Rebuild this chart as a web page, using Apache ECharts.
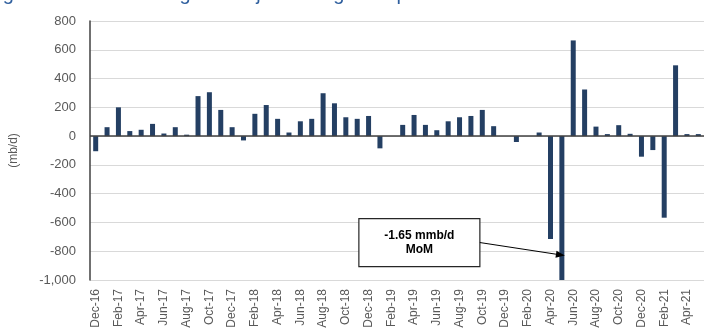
<!DOCTYPE html>
<html>
<head>
<meta charset="utf-8">
<script src="https://cdn.jsdelivr.net/npm/echarts@6/dist/echarts.min.js"></script>
<style>
  html, body { margin: 0; padding: 0; background: #ffffff; }
  #chart { width: 704px; height: 331px; }
</style>
</head>
<body>
<div id="chart"></div>
<script>
// Monthly change in crude output, thousand barrels per day
const months = [
  'Dec-16', 'Jan-17', 'Feb-17', 'Mar-17', 'Apr-17', 'May-17', 'Jun-17', 'Jul-17', 'Aug-17', 'Sep-17', 'Oct-17', 'Nov-17',
  'Dec-17', 'Jan-18', 'Feb-18', 'Mar-18', 'Apr-18', 'May-18', 'Jun-18', 'Jul-18', 'Aug-18', 'Sep-18', 'Oct-18', 'Nov-18',
  'Dec-18', 'Jan-19', 'Feb-19', 'Mar-19', 'Apr-19', 'May-19', 'Jun-19', 'Jul-19', 'Aug-19', 'Sep-19', 'Oct-19', 'Nov-19',
  'Dec-19', 'Jan-20', 'Feb-20', 'Mar-20', 'Apr-20', 'May-20', 'Jun-20', 'Jul-20', 'Aug-20', 'Sep-20', 'Oct-20', 'Nov-20',
  'Dec-20', 'Jan-21', 'Feb-21', 'Mar-21', 'Apr-21', 'May-21'
];
const momChange = [
  -105, 62, 200, 35, 44, 85, 18, 62, 10, 278, 305, 182,
  62, -30, 155, 216, 120, 25, 103, 120, 298, 228, 131, 120,
  140, -85, 0, 78, 147, 78, 41, 103, 131, 140, 182, 69,
  0, -41, 0, 25, -715, -1650, 665, 324, 66, 14, 76, 16,
  -143, -97, -567, 492, 14, 14
];
const yTicks = { min: -1000, max: 800, step: 200 };
const unitLabel = '(mb/d)';
const titleText = 'Figure 16: MoM Change in Major US Tight Oil production';
const calloutLines = ['-1.65 mmb/d', 'MoM'];
const calloutMonth = 'May-20';

const chart = echarts.init(document.getElementById('chart'), null, { renderer: 'canvas' });

const axisGrey = '#595959';
const font = 'Liberation Sans, Arial, sans-serif';

chart.setOption({
  animation: false,
  backgroundColor: '#ffffff',
  grid: { left: 87, top: 21, width: 621, height: 259, containLabel: false },
  xAxis: {
    type: 'category',
    data: months,
    boundaryGap: true,
    axisLine: { show: false, onZero: false },
    axisTick: { show: false },
    axisLabel: {
      interval: 1,
      rotate: 90,
      margin: 9,
      color: axisGrey,
      fontFamily: font,
      fontSize: 12
    },
    splitLine: { show: false }
  },
  yAxis: {
    type: 'value',
    min: yTicks.min,
    max: yTicks.max,
    interval: yTicks.step,
    name: unitLabel,
    nameLocation: 'middle',
    nameGap: 70,
    nameTextStyle: { color: axisGrey, fontFamily: font, fontSize: 12 },
    axisLine: { show: true, lineStyle: { color: '#404040', width: 1.5 } },
    axisTick: { show: false },
    axisLabel: {
      margin: 14,
      color: axisGrey,
      fontFamily: font,
      fontSize: 13,
      formatter: v => v.toLocaleString('en-US')
    },
    splitLine: { show: true, lineStyle: { color: '#d9d9d9', width: 1 } }
  },
  series: [{
    type: 'bar',
    data: momChange,
    barWidth: 5,
    clip: true,
    itemStyle: { color: '#243f63' },
    markLine: {
      silent: true,
      symbol: ['none', 'none'],
      label: { show: false },
      lineStyle: { color: '#404040', width: 1.5, type: 'solid' },
      data: [{ yAxis: 0 }]
    }
  }]
});

// Callout box with an arrow pointing at the May-20 drop
const tip = chart.convertToPixel({ xAxisIndex: 0, yAxisIndex: 0 }, [calloutMonth, -830]);
const tipX = tip[0] + 3, tipY = tip[1];
const boxW = 121, boxH = 48;
const boxRight = tipX - 85;
const boxTop = tipY - 37;
const startX = boxRight, startY = boxTop + boxH / 2;
const ang = Math.atan2(tipY - startY, tipX - startX);
const headLen = 9, headHalf = 3.5;
const baseX = tipX - headLen * Math.cos(ang), baseY = tipY - headLen * Math.sin(ang);

chart.setOption({
  graphic: [
    {
      type: 'text',
      left: -14,
      top: -16,
      style: { text: titleText, fill: '#2f5f9e', font: '20px ' + font }
    },
    {
      type: 'rect',
      shape: { x: boxRight - boxW, y: boxTop, width: boxW, height: boxH },
      style: { fill: '#ffffff', stroke: '#262626', lineWidth: 1.2 },
      z: 10
    },
    {
      type: 'text',
      x: boxRight - boxW / 2,
      y: boxTop + boxH / 2,
      style: {
        text: calloutLines.join('\n'),
        fill: '#000000',
        font: 'bold 12px ' + font,
        align: 'center',
        verticalAlign: 'middle',
        lineHeight: 14
      },
      z: 11
    },
    {
      type: 'line',
      shape: { x1: startX, y1: startY, x2: baseX, y2: baseY },
      style: { stroke: '#000000', lineWidth: 1 },
      z: 10
    },
    {
      type: 'polygon',
      shape: {
        points: [
          [tipX, tipY],
          [baseX + headHalf * Math.sin(ang), baseY - headHalf * Math.cos(ang)],
          [baseX - headHalf * Math.sin(ang), baseY + headHalf * Math.cos(ang)]
        ]
      },
      style: { fill: '#000000' },
      z: 10
    }
  ]
});
</script>
</body>
</html>
